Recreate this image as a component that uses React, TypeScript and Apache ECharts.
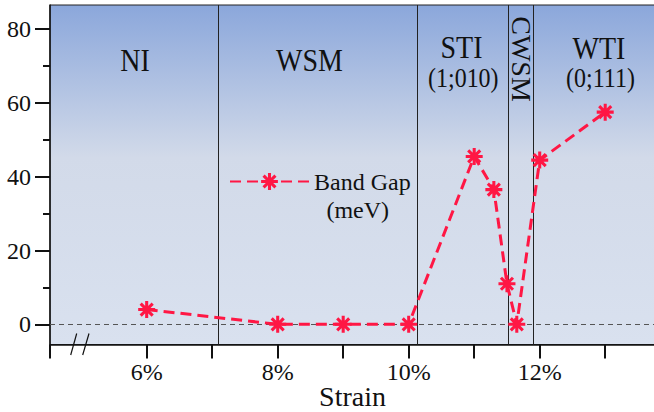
import React, { useEffect, useRef } from "react";
import * as echarts from "echarts";

// ---- data ----
const strain: number[] = [6, 8, 9, 10, 11, 11.3, 11.5, 11.65, 12, 13];
const bandGap: number[] = [4, 0, 0, 0, 45.5, 36.5, 11, 0, 44.5, 57.5];
const phaseBoundaries: number[] = [7.1, 10.13, 11.52, 11.9];
const xTickValues: number[] = [6, 7, 8, 9, 10, 11, 12, 13];
const xLabelValues: number[] = [6, 8, 10, 12];
const yMajorTicks: number[] = [0, 20, 40, 60, 80];
const yMinorTicks: number[] = [10, 30, 50, 70];
const xMin = 4.524;
const xMax = 13.76;
const yMin = -5.47;
const yMax = 86.53;

const FONT = "Liberation Serif";
const RED = "#ff1744";

// asterisk symbol (8 arms)
function asteriskPath(): string {
  const parts: string[] = [];
  const c = 50;
  const L = 50;
  const w = 9;
  for (let k = 0; k < 4; k++) {
    const a = (k * Math.PI) / 4;
    const dx = Math.cos(a), dy = Math.sin(a);
    const px = -dy, py = dx;
    const pts = [
      [c + dx * L + px * w, c + dy * L + py * w],
      [c + dx * L - px * w, c + dy * L - py * w],
      [c - dx * L - px * w, c - dy * L - py * w],
      [c - dx * L + px * w, c - dy * L + py * w],
    ];
    parts.push(
      "M" + pts.map((p) => p[0].toFixed(2) + " " + p[1].toFixed(2)).join(" L") + " Z"
    );
  }
  return "path://" + parts.join(" ");
}

export default function App() {
  const ref = useRef<HTMLDivElement>(null);
  useEffect(() => {
    if (!ref.current) return;
    const chart = echarts.init(ref.current, null, { renderer: "svg" });
    const sym = asteriskPath();
    const txt = (text: string, x: number, y: number, size: number, extra: any = {}) => ({
      type: "text",
      x,
      y,
      z: 50,
      scaleY: 1.1,
      ...extra,
      style: {
        text,
        fill: "#111",
        font: `${size}px "${FONT}"`,
        textAlign: "center",
        textVerticalAlign: "middle",
      },
    });
    chart.setOption({
      animation: false,
      grid: {
        left: 50,
        top: 5,
        right: -1,
        bottom: 67.5,
        containLabel: false,
        outerBoundsMode: "none",
        show: true,
        borderColor: "#222",
        borderWidth: 1,
        backgroundColor: new echarts.graphic.LinearGradient(0, 0, 0, 1, [
          { offset: 0, color: "#8ba7db" },
          { offset: 0.45, color: "#d2dae9" },
          { offset: 1, color: "#d9e1ef" },
        ]),
      },
      legend: {
        left: 229,
        top: 169.5,
        padding: 0,
        itemWidth: 79,
        itemHeight: 21,
        data: ["Band Gap"],
        textStyle: { fontFamily: FONT, fontSize: 24, color: "#111" },
      },
      xAxis: {
        type: "value",
        min: xMin,
        max: xMax,
        name: "Strain",
        nameLocation: "middle",
        nameGap: 38,
        nameMoveOverlap: false,
        nameTextStyle: { fontFamily: FONT, fontSize: 28, color: "#111" },
        splitLine: { show: false },
        axisLine: { show: true, onZero: false, lineStyle: { color: "#111", width: 1.5 } },
        axisTick: {
          show: true,
          length: 14,
          lineStyle: { color: "#111", width: 2 },
          customValues: [xMin, ...xTickValues],
        },
        axisLabel: {
          fontFamily: FONT,
          fontSize: 24,
          color: "#111",
          margin: 15,
          customValues: xLabelValues,
          formatter: (v: number) => `${v}%`,
        },
      },
      yAxis: [
        {
          type: "value",
          min: yMin,
          max: yMax,
          splitLine: { show: false },
          axisLine: { show: true, onZero: false, lineStyle: { color: "#111", width: 1.5 } },
          axisTick: {
            show: true,
            length: 15,
            lineStyle: { color: "#111", width: 2 },
            customValues: yMajorTicks,
          },
          axisLabel: {
            fontFamily: FONT,
            fontSize: 24,
            color: "#111",
            margin: 19,
            customValues: yMajorTicks,
          },
        },
        {
          type: "value",
          min: yMin,
          max: yMax,
          position: "left",
          splitLine: { show: false },
          axisLine: { show: false, onZero: false },
          axisTick: {
            show: true,
            length: 7,
            lineStyle: { color: "#111", width: 2 },
            customValues: yMinorTicks,
          },
          axisLabel: { show: false },
        },
      ],
      series: [
        {
          name: "phases",
          type: "line",
          data: [],
          silent: true,
          markLine: {
            silent: true,
            symbol: "none",
            label: { show: false },
            lineStyle: { color: "#222", width: 1, type: "solid" },
            data: [
              ...phaseBoundaries.map((v) => ({ xAxis: v })),
              { yAxis: 0, lineStyle: { color: "#555", width: 1, type: [5, 4] } },
            ],
          },
        },
        {
          name: "Band Gap",
          type: "line",
          data: strain.map((s, i) => [s, bandGap[i]]),
          symbol: sym,
          symbolSize: 17,
          z: 10,
          lineStyle: { color: RED, width: 3, type: [11, 6] },
          itemStyle: { color: RED },
        },
      ],
      graphic: [
        txt("NI", 135, 61, 28),
        txt("WSM", 309.5, 61, 28),
        txt("STI", 461.5, 47.5, 28),
        txt("(1;010)", 463.3, 78, 24),
        txt("CWSM", 521, 59, 28, { rotation: -Math.PI / 2, scaleY: 1, scaleX: 1 }),
        txt("WTI", 599, 49, 28),
        txt("(0;111)", 600.5, 78, 24),
        txt("(meV)", 357.7, 210, 24, { scaleY: 1 }),
        {
          type: "line",
          z: 60,
          shape: { x1: 70.7, y1: 355, x2: 76.7, y2: 333.5 },
          style: { stroke: "#111", lineWidth: 1.2 },
        },
        {
          type: "line",
          z: 60,
          shape: { x1: 82.7, y1: 355, x2: 89, y2: 333.5 },
          style: { stroke: "#111", lineWidth: 1.2 },
        },
      ],
    });
    return () => chart.dispose();
  }, []);
  return <div ref={ref} style={{ width: 654, height: 412, position: "absolute", left: 0, top: 0 }} />;
}
